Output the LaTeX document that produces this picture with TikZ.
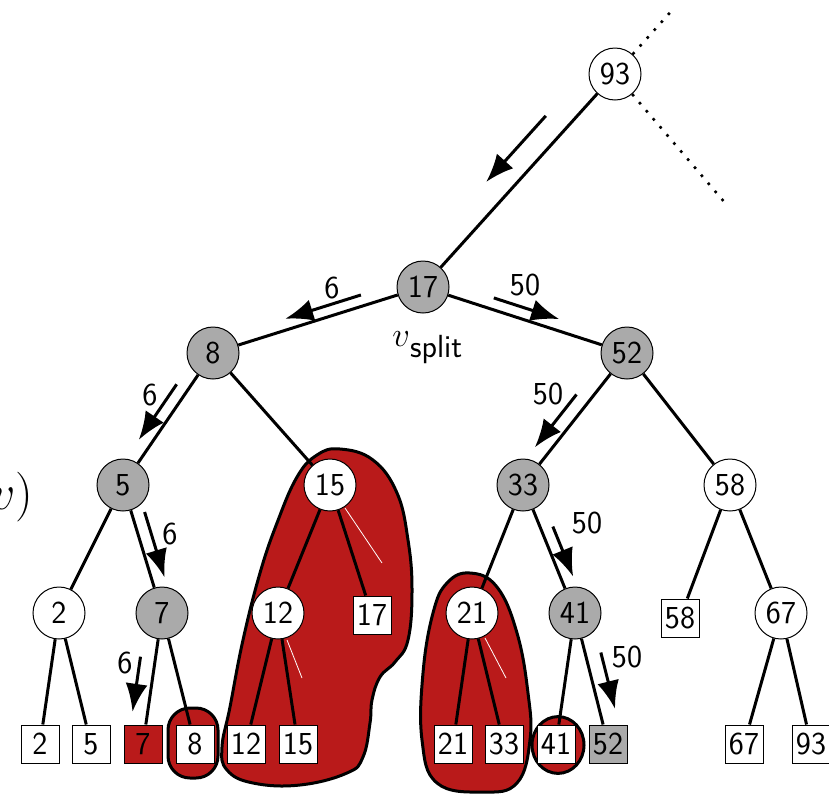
\documentclass[tikz,border=0pt]{standalone}
\usepackage{tikz}
\usetikzlibrary{arrows.meta,calc}

\definecolor{hitred}{RGB}{185,26,26}
\definecolor{pathgray}{RGB}{170,170,170}

\begin{document}
\begin{tikzpicture}[x=0.5pt,y=-0.5pt,
    branch/.style={line width=1.5pt},
    flow/.style={line width=1.5pt,-{Latex[length=14pt,width=11pt]}},
    ellipsis/.style={line width=1.3pt,dash pattern=on 1.3pt off 4pt},
    circ/.style={circle,draw,line width=0.5pt,minimum size=26pt,inner sep=0pt,font=\fontsize{16}{19}\sffamily},
    onpath/.style={circ,fill=pathgray},
    offpath/.style={circ,fill=white},
    leaf/.style={rectangle,draw,line width=0.5pt,fill=white,minimum size=19pt,inner sep=1pt,font=\fontsize{16}{19}\sffamily},
    blob/.style={draw,line width=1.5pt,fill=hitred},
    lbl/.style={font=\fontsize{16}{19}\sffamily}]
  \useasboundingbox (0,0) rectangle (829,793);

  % reported subtrees
  \draw[blob] plot[smooth cycle,tension=0.7] coordinates {(340,449) (373,460) (397,493) (408,540) (412,590) (408,640) (395,662) (380,677) (372,700) (370,723) (363,757) (347,773) (300,785) (253,783) (227,770) (222,747) (230,707) (243,640) (260,573) (277,523) (297,477) (317,455)};
  \draw[blob] plot[smooth cycle,tension=0.7] coordinates {(470,573) (497,587) (517,633) (528,693) (530,740) (517,783) (483,792) (437,783) (422,740) (423,673) (433,613) (447,583)};
  \draw[blob,rounded corners=11pt] (168,708) rectangle (218,778);
  \draw[blob] (558,745) ellipse [x radius=13pt,y radius=14.2pt];
  \draw[white,line width=0.4pt] (345,508) -- (382,563);
  \draw[white,line width=0.4pt] (287,640) -- (302,678);
  \draw[white,line width=0.4pt] (485,638) -- (506,678);

  % inner nodes
  \node[offpath] (n93) at (615,74) {93};
  \node[onpath] (n17) at (423,287) {17};
  \node[onpath] (n8) at (213,353) {8};
  \node[onpath] (n52) at (627,353) {52};
  \node[onpath] (n5) at (123,485) {5};
  \node[offpath] (n15) at (330,485) {15};
  \node[onpath] (n33) at (523,485) {33};
  \node[offpath] (n58) at (730,485) {58};
  \node[offpath] (n2) at (59,613) {2};
  \node[onpath] (n7) at (162,613) {7};
  \node[offpath] (n12) at (278,613) {12};
  \node[offpath] (n21) at (472,613) {21};
  \node[onpath] (n41) at (575,613) {41};
  \node[offpath] (n67) at (781,613) {67};

  % leaves
  \node[leaf] (b17) at (372,615) {17};
  \node[leaf] (b58) at (680,618) {58};
  \node[leaf] (l2) at (40,744) {2};
  \node[leaf] (l5) at (91,744) {5};
  \node[leaf,fill=hitred] (l7) at (143,744) {7};
  \node[leaf] (l8) at (195,744) {8};
  \node[leaf] (l12) at (246,744) {12};
  \node[leaf] (l15) at (298,744) {15};
  \node[leaf] (l21) at (453,744) {21};
  \node[leaf] (l33) at (504,744) {33};
  \node[leaf] (l41) at (556,744) {41};
  \node[leaf,fill=pathgray] (l52) at (608,744) {52};
  \node[leaf] (l67) at (744,744) {67};
  \node[leaf] (l93) at (811,744) {93};

  % edges
  \draw[branch] (n93) -- (n17);
  \draw[branch] (n17) -- (n8);
  \draw[branch] (n17) -- (n52);
  \draw[branch] (n8) -- (n5);
  \draw[branch] (n8) -- (n15);
  \draw[branch] (n5) -- (n2);
  \draw[branch] (n5) -- (n7);
  \draw[branch] (n2) -- (l2);
  \draw[branch] (n2) -- (l5);
  \draw[branch] (n7) -- (l7);
  \draw[branch] (n7) -- (l8);
  \draw[branch] (n15) -- (n12);
  \draw[branch] (n15) -- (b17);
  \draw[branch] (n12) -- (l12);
  \draw[branch] (n12) -- (l15);
  \draw[branch] (n52) -- (n33);
  \draw[branch] (n52) -- (n58);
  \draw[branch] (n33) -- (n21);
  \draw[branch] (n33) -- (n41);
  \draw[branch] (n21) -- (l21);
  \draw[branch] (n21) -- (l33);
  \draw[branch] (n41) -- (l41);
  \draw[branch] (n41) -- (l52);
  \draw[branch] (n58) -- (b58);
  \draw[branch] (n58) -- (n67);
  \draw[branch] (n67) -- (l67);
  \draw[branch] (n67) -- (l93);

  % rest of the tree
  \coordinate (farup) at (675,7);
  \coordinate (fardown) at (726,204);
  \draw[ellipsis] (n93) -- (farup);
  \draw[ellipsis] (n93) -- (fardown);

  % search paths
  \draw[flow] ($(n93)!0.27!(n17)!11.7pt!-90:(n17)$) -- ($(n93)!0.58!(n17)!11.7pt!-90:(n17)$);
  \draw[flow] ($(n17)!0.28!(n8)!5.5pt!-90:(n8)$) -- ($(n17)!0.64!(n8)!5.5pt!-90:(n8)$);
  \draw[flow] ($(n17)!0.33!(n52)!5.7pt!90:(n52)$) -- ($(n17)!0.65!(n52)!5.7pt!90:(n52)$);
  \draw[flow] ($(n52)!0.38!(n33)!7pt!-90:(n33)$) -- ($(n52)!0.78!(n33)!7pt!-90:(n33)$);
  \draw[flow] ($(n8)!0.29!(n5)!6.2pt!-90:(n5)$) -- ($(n8)!0.71!(n5)!6.2pt!-90:(n5)$);
  \draw[flow] ($(n5)!0.24!(n7)!6.4pt!90:(n7)$) -- ($(n5)!0.75!(n7)!6.4pt!90:(n7)$);
  \draw[flow] ($(n7)!0.35!(l7)!7.5pt!-90:(l7)$) -- ($(n7)!0.77!(l7)!7.5pt!-90:(l7)$);
  \draw[flow] ($(n33)!0.36!(n41)!6pt!90:(n41)$) -- ($(n33)!0.75!(n41)!6pt!90:(n41)$);
  \draw[flow] ($(n41)!0.33!(l52)!7.7pt!90:(l52)$) -- ($(n41)!0.76!(l52)!7.7pt!90:(l52)$);

  \node[lbl] (q1) at (332,288) {6};
  \node[lbl] (q2) at (525,285) {50};
  \node[lbl] (q3) at (548,394) {50};
  \node[lbl] (q4) at (150,395) {6};
  \node[lbl] (q5) at (170,534) {6};
  \node[lbl] (q6) at (125,663) {6};
  \node[lbl] (q7) at (587,523) {50};
  \node[lbl] (q8) at (627,657) {50};

  \node[anchor=base west,inner sep=0pt,font=\fontsize{16}{19}\selectfont] (vsplit) at (392,346) {$v$\raisebox{-5.5pt}{\sffamily split}};
  \node[anchor=base east,inner sep=0pt,font=\fontsize{32}{38}\selectfont] (cost) at (34,509) {$v)$};
\end{tikzpicture}
\end{document}
